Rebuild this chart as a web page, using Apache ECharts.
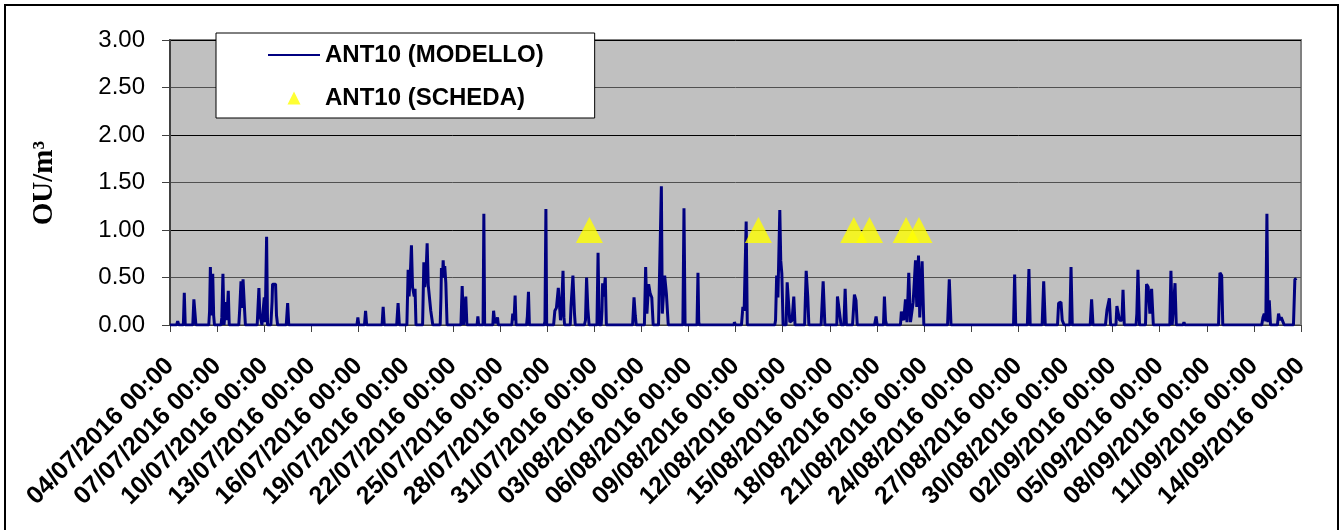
<!DOCTYPE html>
<html>
<head>
<meta charset="utf-8">
<script src="https://cdn.jsdelivr.net/npm/echarts@6/dist/echarts.min.js"></script>
<style>
html,body{margin:0;padding:0;background:#fff;}
#chart{width:1342px;height:530px;}
</style>
</head>
<body>
<div id="chart"></div>
<script>
// X tick labels (every 3 days from 04/07/2016)
const xTickLabels = [
  '04/07/2016 00:00','07/07/2016 00:00','10/07/2016 00:00','13/07/2016 00:00','16/07/2016 00:00',
  '19/07/2016 00:00','22/07/2016 00:00','25/07/2016 00:00','28/07/2016 00:00','31/07/2016 00:00',
  '03/08/2016 00:00','06/08/2016 00:00','09/08/2016 00:00','12/08/2016 00:00','15/08/2016 00:00',
  '18/08/2016 00:00','21/08/2016 00:00','24/08/2016 00:00','27/08/2016 00:00','30/08/2016 00:00',
  '02/09/2016 00:00','05/09/2016 00:00','08/09/2016 00:00','11/09/2016 00:00','14/09/2016 00:00'
];
const seriesNames = ['ANT10 (MODELLO)', 'ANT10 (SCHEDA)'];

// Modelled concentration: [days since 04/07/2016 00:00, OU/m3]
const modelSeries = [
  [0,0],[0.42,0],[0.49,0.04],[0.56,0],
  [0.85,0],[0.91,0.34],[0.97,0],
  [1.45,0],[1.52,0.27],[1.57,0.29],[1.65,0],
  [2.47,0],[2.52,0.15],[2.57,0.61],[2.64,0.10],[2.72,0.54],[2.78,0.10],[2.83,0],
  [3.25,0],[3.30,0.08],[3.37,0.54],[3.44,0],[3.50,0.12],[3.56,0.24],[3.62,0.05],[3.71,0.36],[3.77,0],
  [4.38,0],[4.44,0.17],[4.52,0.46],[4.58,0.18],[4.65,0.48],[4.69,0.50],[4.75,0.15],[4.80,0],
  [5.10,0],[5.16,0.02],[5.22,0],
  [5.55,0],[5.66,0.39],[5.72,0.10],[5.80,0.05],[5.85,0],
  [5.95,0],[6.00,0.29],[6.06,0.03],[6.15,0.93],[6.21,0],
  [6.42,0],[6.50,0.25],[6.53,0.43],[6.72,0.43],[6.78,0.10],[6.85,0],
  [7.40,0],[7.49,0.23],[7.56,0],
  [11.90,0],[11.96,0.08],[12.02,0],
  [12.38,0],[12.45,0.15],[12.52,0],
  [13.50,0],[13.57,0.19],[13.64,0],
  [14.43,0],[14.52,0.23],[14.60,0],
  [15.08,0],[15.16,0.58],[15.22,0.30],[15.29,0.50],[15.37,0.84],[15.44,0.40],[15.48,0.40],[15.55,0.30],[15.60,0.38],[15.66,0],
  [16.08,0],[16.16,0.66],[16.22,0.40],[16.30,0.55],[16.37,0.86],[16.44,0.42],[16.50,0.42],[16.60,0.15],[16.67,0.15],[16.73,0],
  [17.20,0],[17.25,0.30],[17.28,0.60],[17.35,0.50],[17.39,0.68],[17.44,0.50],[17.49,0.62],[17.56,0.44],[17.64,0],
  [18.52,0],[18.60,0.41],[18.68,0],[18.76,0],[18.83,0.30],[18.90,0],
  [19.07,0],[19.10,0.02],[19.13,0],
  [19.55,0],[19.60,0.09],[19.65,0],
  [19.93,0],[19.98,1.17],[20.03,0],
  [20.55,0],[20.60,0.15],[20.66,0.05],[20.75,0.02],[20.85,0.08],[20.90,0],
  [21.76,0],[21.82,0.12],[21.90,0.05],[21.97,0.31],[22.03,0],
  [22.38,0],[22.40,0.02],[22.45,0],
  [22.70,0],[22.75,0.09],[22.82,0.35],[22.88,0],
  [23.82,0],[23.87,0.04],[23.93,1.22],[23.98,0],
  [24.42,0],[24.50,0.15],[24.60,0.18],[24.72,0.39],[24.80,0.37],[24.86,0.05],[24.92,0.15],[25.02,0.57],[25.08,0.08],[25.12,0],
  [25.48,0],[25.53,0.20],[25.65,0.52],[25.75,0.12],[25.80,0],
  [26.38,0],[26.45,0.05],[26.52,0.50],[26.60,0.17],[26.68,0],
  [27.18,0],[27.25,0.76],[27.32,0],
  [27.45,0],[27.50,0.15],[27.54,0.44],[27.60,0.30],[27.71,0.50],[27.78,0],
  [28.55,0],[28.58,0.01],[28.62,0],
  [29.45,0],[29.54,0.29],[29.62,0.10],[29.68,0],
  [30.20,0],[30.28,0.61],[30.36,0.12],[30.47,0.43],[30.57,0.33],[30.67,0.29],[30.76,0],
  [31.10,0],[31.14,0.33],[31.28,1.46],[31.34,0.12],[31.40,0.12],[31.49,0.52],[31.60,0.33],[31.72,0],
  [32.65,0],[32.72,1.23],[32.79,0],
  [33.55,0],[33.61,0.55],[33.66,0.03],[33.70,0],
  [35.90,0],[35.93,0.03],[36.00,0],
  [36.38,0],[36.47,0.19],[36.55,0.15],[36.68,1.09],[36.75,0],
  [38.50,0],[38.55,0.05],[38.62,0.52],[38.70,0.29],[38.82,1.21],[38.88,0.68],[38.95,0.54],[39.03,0],
  [39.22,0],[39.29,0.45],[39.39,0.47],[39.46,0.03],[39.60,0.05],[39.71,0.30],[39.79,0],
  [40.40,0],[40.50,0.57],[40.60,0.30],[40.67,0],
  [41.45,0],[41.58,0.46],[41.69,0],
  [42.45,0],[42.49,0.30],[42.60,0.28],[42.72,0],
  [42.90,0],[42.98,0.38],[43.06,0],
  [43.45,0],[43.57,0.32],[43.67,0.26],[43.75,0],
  [44.85,0],[44.95,0.09],[45.02,0],
  [45.42,0],[45.48,0.30],[45.55,0.05],[45.62,0],
  [46.50,0],[46.56,0.14],[46.71,0.05],[46.82,0.27],[46.92,0.03],[47.03,0.55],[47.14,0.03],[47.31,0.24],
  [47.46,0.68],[47.54,0.19],[47.65,0.73],[47.73,0.08],[47.88,0.67],[47.99,0],
  [48.62,0],[48.68,0.01],[48.74,0],
  [49.50,0],[49.61,0.48],[49.72,0],
  [53.70,0],[53.77,0.53],[53.84,0],
  [54.58,0],[54.68,0.59],[54.76,0],
  [55.52,0],[55.62,0.46],[55.72,0],
  [56.50,0],[56.57,0.23],[56.72,0.24],[56.80,0.05],[56.88,0.03],[56.92,0],
  [57.28,0],[57.36,0.61],[57.44,0],
  [58.58,0],[58.67,0.27],[58.76,0],
  [59.55,0],[59.65,0.16],[59.80,0.28],[59.88,0],
  [60.22,0],[60.28,0.20],[60.36,0.20],[60.45,0.05],[60.60,0.05],[60.67,0.37],[60.75,0],
  [61.50,0],[61.55,0.12],[61.62,0.58],[61.72,0],
  [62.10,0],[62.17,0.43],[62.27,0.40],[62.38,0.12],[62.49,0.38],[62.60,0],
  [63.65,0],[63.72,0.57],[63.80,0],[63.90,0],[63.98,0.44],[64.06,0],
  [64.49,0],[64.55,0.03],[64.61,0],
  [65.62,0],[65.67,0.01],[65.72,0],
  [66.75,0],[66.84,0.55],[66.95,0.52],[67.02,0],
  [69.50,0],[69.58,0.08],[69.66,0.12],[69.76,0.04],[69.83,1.17],[69.90,0.03],[69.98,0.26],[70.06,0],
  [70.50,0],[70.57,0.12],[70.66,0.05],[70.74,0.08],[70.86,0.08],[70.93,0],
  [71.52,0],[71.61,0.48],[71.72,0.49]
];

// Observed (scheda) points: [days since 04/07/2016 00:00, OU/m3]
const schedaSeries = [
  [26.70,1.0],[37.46,1.0],[43.53,1.0],[44.53,1.0],[46.86,1.0],[47.68,1.0]
];

const chart = echarts.init(document.getElementById('chart'), null, {renderer:'canvas'});
chart.setOption({
  backgroundColor:'#ffffff',
  animation:false,
  grid:{left:170, top:40, right:41, bottom:205, show:true, backgroundColor:'#C0C0C0', borderColor:'#808080', borderWidth:2},
  xAxis:{
    type:'value', min:0, max:72, interval:3,
    axisLine:{show:true, onZero:false, lineStyle:{color:'#404040', width:1}},
    axisTick:{show:true, length:7, lineStyle:{color:'#404040'}},
    splitLine:{show:false},
    axisLabel:{
      rotate:45, margin:37, color:'#000', fontFamily:'Arial, "Liberation Sans"', fontWeight:'bold', fontSize:25,
      showMinLabel:true, showMaxLabel:true,
      formatter:function(v){ return xTickLabels[Math.round(v/3)] || ''; }
    }
  },
  yAxis:{
    type:'value', min:0, max:3, interval:0.5,
    axisLine:{show:true, lineStyle:{color:'#404040', width:2}},
    axisTick:{show:true, inside:false, length:8, lineStyle:{color:'#404040'}},
    splitLine:{show:true, lineStyle:{color:['#000000','#505050'], width:1}},
    axisLabel:{margin:25, color:'#000', fontFamily:'Arial, "Liberation Sans"', fontSize:24,
      formatter:function(v){ return v.toFixed(2); }}
  },
  legend:{
    orient:'vertical', left:216, top:33,
    backgroundColor:'#ffffff', borderColor:'#000000', borderWidth:1,
    padding:[10,51,8,52], itemGap:19, itemWidth:52, itemHeight:13,
    symbolKeepAspect:true,
    textStyle:{color:'#000', fontFamily:'Arial, "Liberation Sans"', fontWeight:'bold', fontSize:24},
    data:[
      {name:seriesNames[0], icon:'path://M0,0 L52,0 L52,2 L0,2 Z'},
      {name:seriesNames[1], icon:'path://M6.5,0 L13,13 L0,13 Z'}
    ],
    z:10
  },
  graphic:[
    {type:'text', x:45, y:183, rotation:Math.PI/2,
      style:{text:'OU/m³', fill:'#000', font:'bold 29px "Liberation Serif", "Times New Roman", serif', textAlign:'center', textVerticalAlign:'middle'}},
    {type:'rect', shape:{x:5, y:5, width:1333, height:540}, style:{fill:'none', stroke:'#000', lineWidth:2}, silent:true}
  ],
  series:[
    {name:seriesNames[0], type:'line', data:modelSeries, symbol:'none', showSymbol:false,
      lineStyle:{color:'#000080', width:3}, itemStyle:{color:'#000080'}, z:3},
    {name:seriesNames[1], type:'scatter', data:schedaSeries, symbol:'triangle', symbolSize:[27,26],
      itemStyle:{color:'#FFFF00'}, z:4}
  ]
});
</script>
</body>
</html>
